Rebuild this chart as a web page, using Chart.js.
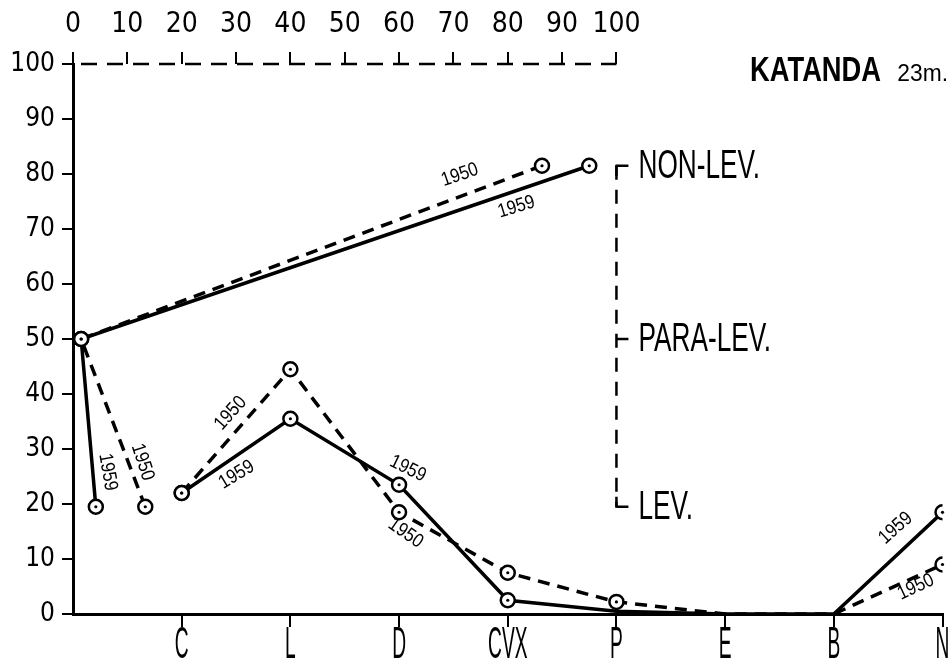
<!DOCTYPE html>
<html>
<head>
<meta charset="utf-8">
<script src="https://cdn.jsdelivr.net/npm/chart.js@4.4.1/dist/chart.umd.min.js"></script>
<style>
  body { margin: 0; background: #fff; }
  #wrap { width: 952px; height: 669px; }
</style>
</head>
<body>
<div id="wrap"><canvas id="katandaChart"></canvas></div>
<script>
// Data
const categories = ['C', 'L', 'D', 'CVX', 'P', 'E', 'B', 'N'];
const series1959 = [22, 35.5, 23.5, 2.5, 0.5, 0, 0, 18.5];
const series1950 = [22, 44.5, 18.5, 7.5, 2.2, 0, 0, 9];

// Levallois indices, read on the top percentage scale
const indexLevels = [19.5, 50, 81.5];          // LEV., PARA-LEV., NON-LEV.
const indexLabels = ['LEV.', 'PARA-LEV.', 'NON-LEV.'];
const index1959 = [4.2, 1.5, 95];
const index1950 = [13.3, 1.5, 86.3];

const topTicks = [0, 10, 20, 30, 40, 50, 60, 70, 80, 90, 100];
const yTicks = [0, 10, 20, 30, 40, 50, 60, 70, 80, 90, 100];

// Year tags written along the lines [text, x, y, angle]
const yearTags = [
    ['1950', 71.2, 79.8, -19],
    ['1959', 81.6, 74.0, -17],
    ['1959', 6.4, 25.8, 80],
    ['1950', 12.8, 27.6, 72],
    ['1950', 29.0, 36.5, -48],
    ['1959', 30.1, 25.3, -31],
    ['1959', 61.6, 26.4, 26],
    ['1950', 61.2, 14.7, 35],
    ['1959', 151.4, 15.6, -42],
    ['1950', 155.1, 4.9, -25]
];

const CAT_STEP = 20;
const NARROW = "'Liberation Sans Narrow', 'DejaVu Sans Condensed', 'Liberation Sans', sans-serif";
const PLAIN = "'Liberation Sans', Arial, sans-serif";
const R = 7;

const catPoints = vals => vals.map((v, i) => ({ x: (i + 1) * CAT_STEP, y: v }));
const indexPoints = xs => xs.map((v, i) => ({ x: v, y: indexLevels[i] }));

function drawText(ctx, text, x, y, o) {
    ctx.save();
    ctx.translate(x, y);
    ctx.rotate((o.angle || 0) * Math.PI / 180);
    ctx.scale(o.sx || 1, o.sy || 1);
    ctx.font = (o.bold ? 'bold ' : '') + o.size + 'px ' + PLAIN;
    ctx.textAlign = o.align || 'center';
    ctx.textBaseline = 'middle';
    ctx.fillStyle = '#000';
    ctx.fillText(text, 0, 0);
    ctx.restore();
}

const decor = {
    id: 'decor',
    beforeDatasetsDraw(chart) {
        const { ctx, scales: { x, y, x2 } } = chart;
        ctx.save();
        ctx.strokeStyle = '#000';

        // dashed top scale line
        ctx.lineWidth = 2.5;
        ctx.setLineDash([16, 10]);
        ctx.beginPath();
        ctx.moveTo(x2.getPixelForValue(0) + 8, y.top);
        ctx.lineTo(x2.getPixelForValue(100), y.top);
        ctx.stroke();

        // LEV / PARA-LEV / NON-LEV bracket
        const bx = x.getPixelForValue(100);
        const yLo = y.getPixelForValue(indexLevels[0]);
        const yHi = y.getPixelForValue(indexLevels[2]);
        ctx.setLineDash([14, 10]);
        ctx.beginPath();
        ctx.moveTo(bx, yHi);
        ctx.lineTo(bx, yLo);
        ctx.stroke();
        ctx.setLineDash([]);
        indexLevels.forEach((lv, i) => {
            const py = y.getPixelForValue(lv);
            ctx.beginPath();
            ctx.moveTo(bx, py);
            ctx.lineTo(bx + 12, py);
            ctx.stroke();
            drawText(ctx, indexLabels[i], bx + 22, py + 1, { size: 41, sx: 0.64, align: 'left' });
        });
        ctx.beginPath();
        ctx.moveTo(bx, yHi - 1);
        ctx.lineTo(bx, yHi + 10);
        ctx.moveTo(bx, yLo + 1);
        ctx.lineTo(bx, yLo - 10);
        ctx.stroke();

        // category labels under the bottom axis
        x.ticks.forEach((t, i) => {
            drawText(ctx, categories[i], x.getPixelForValue(t.value), y.bottom + 32, { size: 32, sx: 0.6, sy: 1.4 });
        });

        // site title
        drawText(ctx, '23m.', 948, 74, { size: 24, sx: 0.95, sy: 1.0, align: 'right' });
        drawText(ctx, 'KATANDA', 881, 71, { size: 35, sx: 0.78, bold: true, align: 'right' });
        ctx.restore();
    },
    afterDatasetsDraw(chart) {
        const { ctx, scales: { x, y } } = chart;
        ctx.save();
        ctx.fillStyle = '#000';
        chart.data.datasets.forEach((ds, i) => {
            chart.getDatasetMeta(i).data.forEach(pt => {
                if (pt.options.radius > 0) {
                    ctx.beginPath();
                    ctx.arc(pt.x, pt.y, 1.6, 0, Math.PI * 2);
                    ctx.fill();
                }
            });
        });
        yearTags.forEach(([txt, vx, vy, ang]) => {
            drawText(ctx, txt, x.getPixelForValue(vx), y.getPixelForValue(vy), { size: 17, sy: 1.15, angle: ang });
        });
        ctx.restore();
    }
};

const noDot1959 = [4, 5, 6];
const noDot1950 = [5, 6];

const lineStyle = dashed => ({
    borderColor: '#000',
    borderWidth: 3.5,
    borderDash: dashed ? [12, 8] : [],
    pointBackgroundColor: '#fff',
    pointBorderColor: '#000',
    pointBorderWidth: 2.5,
    tension: 0,
    fill: false
});

new Chart(document.getElementById('katandaChart'), {
    type: 'line',
    data: {
        datasets: [
            Object.assign({ label: '1959 index', data: indexPoints(index1959), pointRadius: R }, lineStyle(false)),
            Object.assign({ label: '1950 index', data: indexPoints(index1950), pointRadius: R }, lineStyle(true)),
            Object.assign({ label: '1959', data: catPoints(series1959),
                pointRadius: c => noDot1959.includes(c.dataIndex) ? 0 : R }, lineStyle(false)),
            Object.assign({ label: '1950', data: catPoints(series1950),
                pointRadius: c => noDot1950.includes(c.dataIndex) ? 0 : R }, lineStyle(true))
        ]
    },
    options: {
        responsive: true,
        maintainAspectRatio: false,
        animation: false,
        layout: { padding: { left: 0, right: 3, top: 0, bottom: 0 } },
        plugins: { legend: { display: false }, tooltip: { enabled: false } },
        scales: {
            x: {
                type: 'linear',
                position: 'bottom',
                min: 0,
                max: (categories.length) * CAT_STEP,
                afterBuildTicks: s => { s.ticks = categories.map((c, i) => ({ value: (i + 1) * CAT_STEP })); },
                afterFit: s => { s.height = 55; s.paddingLeft = 0; s.paddingRight = 0; },
                ticks: { display: false },
                grid: { drawOnChartArea: false, drawTicks: true, tickLength: 13, color: '#000', lineWidth: 2 },
                border: { color: '#000', width: 3 }
            },
            x2: {
                type: 'linear',
                position: 'top',
                min: 0,
                max: (categories.length) * CAT_STEP,
                afterBuildTicks: s => { s.ticks = topTicks.map(v => ({ value: v })); },
                afterFit: s => { s.height = 64; s.paddingLeft = 0; s.paddingRight = 0; },
                ticks: { color: '#000', padding: 10, maxRotation: 0, autoSkip: false,
                    font: { family: NARROW, size: 28 } },
                grid: { drawOnChartArea: false, drawTicks: true, tickLength: 12, color: '#000', lineWidth: 2 },
                border: { display: false }
            },
            y: {
                min: 0,
                max: 100,
                afterBuildTicks: s => { s.ticks = yTicks.map(v => ({ value: v })); },
                afterFit: s => { s.width = 73; s.paddingTop = 0; s.paddingBottom = 0; },
                ticks: { color: '#000', padding: 7, font: { family: NARROW, size: 26 } },
                grid: { drawOnChartArea: false, drawTicks: true, tickLength: 11, color: '#000', lineWidth: 2 },
                border: { color: '#000', width: 3 }
            }
        }
    },
    plugins: [decor]
});
</script>
</body>
</html>
